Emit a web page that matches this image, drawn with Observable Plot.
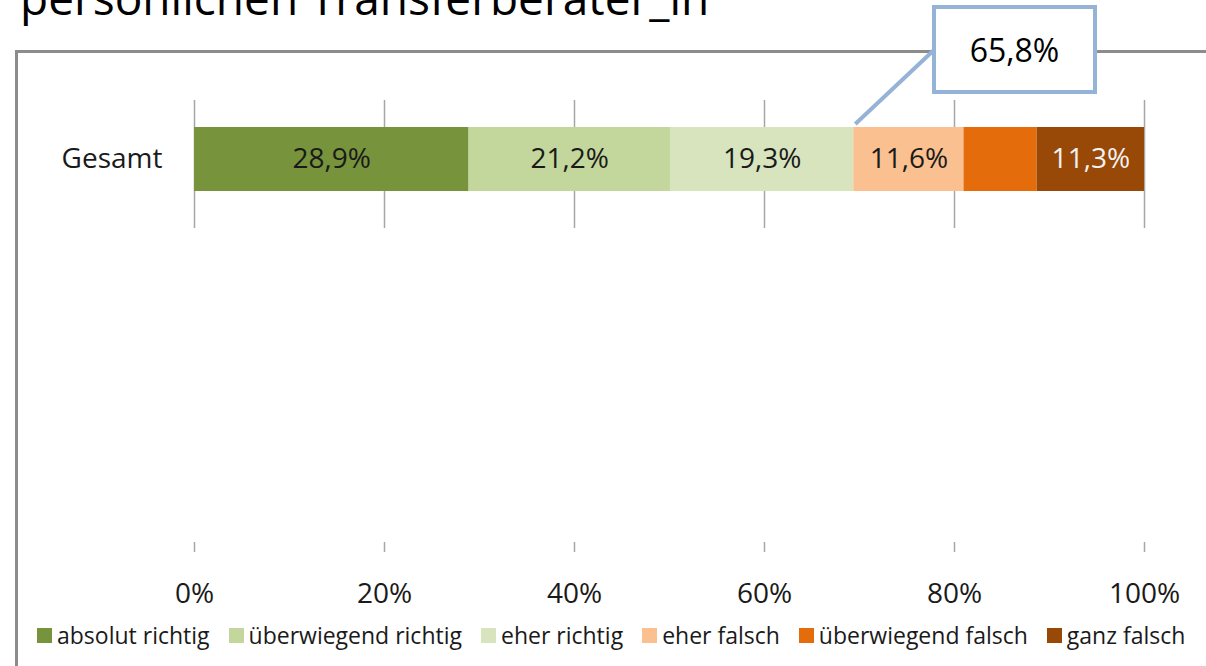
<!DOCTYPE html>
<html><head><meta charset="utf-8">
<script src="https://cdn.jsdelivr.net/npm/d3@7"></script>
<script src="https://cdn.jsdelivr.net/npm/@observablehq/plot@0.6"></script>
<style>
html,body{margin:0;padding:0;background:#fff;}
#root{position:relative;width:1206px;height:666px;overflow:hidden;font-family:"Open Sans",sans-serif;color:#1a1a1a;}
#frame{position:absolute;left:15px;top:50px;width:1300px;height:800px;border:3px solid #8c8c8c;box-sizing:border-box;}
#chart{position:absolute;left:0;top:0;}
#overlay{position:absolute;left:0;top:0;}
#legend{position:absolute;left:37px;top:620px;display:flex;gap:19px;font-size:23px;line-height:30px;white-space:nowrap;}
.item{display:flex;align-items:center;gap:5px;}
.sw{width:15px;height:15px;display:inline-block;}
</style></head>
<body><div id="root"><div id="frame"></div><div id="chart"></div><svg id="overlay" width="1206" height="666"></svg><div id="legend"></div></div>
<script>
const title = "persönlichen Transferberater_in";
const rowLabel = "Gesamt";
const categories = ["absolut richtig", "überwiegend richtig", "eher richtig", "eher falsch", "überwiegend falsch", "ganz falsch"];
const values = [28.9, 21.2, 19.3, 11.6, 7.7, 11.3];
const labels = ["28,9%", "21,2%", "19,3%", "11,6%", "", "11,3%"];
const colors = ["#77933c", "#c3d69b", "#d7e4bd", "#fac090", "#e46c0a", "#984807"];
const labelColors = ["#1a1a1a", "#1a1a1a", "#1a1a1a", "#1a1a1a", "#1a1a1a", "#f2f2f2"];
const xTicks = [0, 20, 40, 60, 80, 100];
const calloutText = "65,8%";
const calloutAfter = 3; // leader attaches after the first three segments

const data = categories.map((c, i) => ({row: rowLabel, cat: c, value: values[i], label: labels[i], col: colors[i], lc: labelColors[i]}));

const chart = Plot.plot({
  width: 1206, height: 666,
  marginLeft: 194, marginRight: 62, marginTop: 100, marginBottom: 114,
  style: {background: "transparent", fontFamily: "'Open Sans', sans-serif", color: "#1a1a1a"},
  x: {domain: [0, 100]},
  y: {domain: [rowLabel], range: [127, 191], padding: 0},
  color: {type: "identity"},
  marks: [
    Plot.ruleX(xTicks, {stroke: "#a6a6a6", strokeWidth: 1.5, insetBottom: 324}),
    Plot.ruleX(xTicks, {stroke: "#a6a6a6", strokeWidth: 1.5, insetTop: 442}),
    Plot.barX(data, Plot.stackX({x: "value", y: "row", fill: "col"})),
    Plot.text(data, Plot.stackX({x: "value", y: "row", text: "label", fill: "lc", fontSize: 28})),
    Plot.axisX({ticks: xTicks, tickFormat: d => d + "%", tickSize: 0, tickPadding: 31, fontSize: 28, label: null}),
    Plot.axisY({tickSize: 0, tickPadding: 32, fontSize: 28, label: null})
  ]
});
document.getElementById("chart").appendChild(chart);

// overlay: title + callout
const ov = d3.select("#overlay");
ov.append("text").attr("x", 20).attr("y", 15).attr("font-size", 46)
  .attr("font-family", "'Open Sans', sans-serif").attr("fill", "#000").text(title);

const xs = chart.scale("x");
const cum = values.slice(0, calloutAfter).reduce((a, b) => a + b, 0);
const sx = xs.apply(cum);
const box = {x: 934, y: 7, w: 161, h: 85};
ov.append("line").attr("x1", sx + 2).attr("y1", 124).attr("x2", box.x).attr("y2", 50)
  .attr("stroke", "#95b3d7").attr("stroke-width", 4);
ov.append("rect").attr("x", box.x).attr("y", box.y).attr("width", box.w).attr("height", box.h)
  .attr("fill", "#fff").attr("stroke", "#95b3d7").attr("stroke-width", 4);
ov.append("text").attr("x", box.x + box.w / 2).attr("y", box.y + box.h / 2)
  .attr("text-anchor", "middle").attr("dominant-baseline", "central")
  .attr("font-size", 32).attr("font-family", "'Open Sans', sans-serif").attr("fill", "#000").text(calloutText);

// legend
const lg = d3.select("#legend");
categories.forEach((c, i) => {
  const it = lg.append("div").attr("class", "item");
  it.append("span").attr("class", "sw").style("background", colors[i]);
  it.append("span").text(c);
});
</script>
</body></html>
